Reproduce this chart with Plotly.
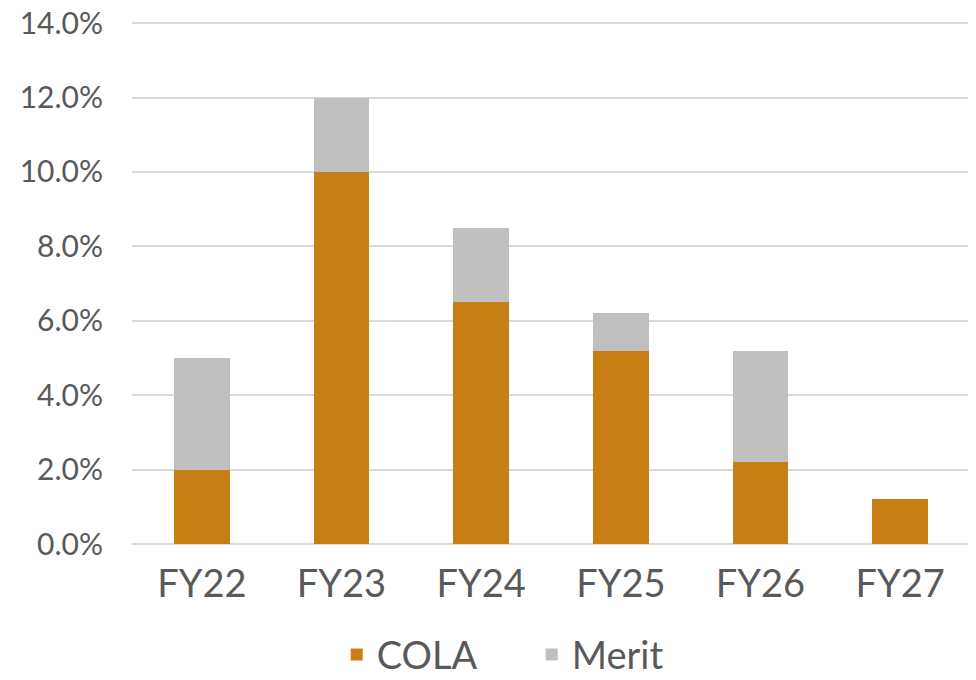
import plotly.graph_objects as go

categories = ["FY22", "FY23", "FY24", "FY25", "FY26", "FY27"]
cola = [2.0, 10.0, 6.5, 5.2, 2.2, 1.2]
merit = [3.0, 2.0, 2.0, 1.0, 3.0, 0.0]
y_ticks = [0, 2, 4, 6, 8, 10, 12, 14]
y_tick_labels = [f"{v:.1f}%" for v in y_ticks]

font_color = "#595959"
fig = go.Figure()
fig.add_trace(go.Bar(name="COLA", x=categories, y=cola, marker_color="#C77E15",
                     marker_line_width=0, width=0.4))
fig.add_trace(go.Bar(name="Merit", x=categories, y=merit, marker_color="#BFBFBF",
                     marker_line_width=0, width=0.4))

fig.update_layout(
    barmode="stack",
    width=968, height=672,
    margin=dict(l=124, r=6, t=14, b=136, autoexpand=False),
    paper_bgcolor="white", plot_bgcolor="white",
    font=dict(family="Lato, sans-serif", color=font_color),
    showlegend=True,
    legend=dict(orientation="h", x=0.477, xanchor="center", y=-0.152, yanchor="top",
                font=dict(size=38, color=font_color), itemwidth=30, entrywidth=150,
                traceorder="normal"),
    xaxis=dict(tickfont=dict(size=38, color=font_color), showgrid=False,
               showline=False, ticks="", ticklabelstandoff=14, automargin=False),
    yaxis=dict(range=[0, 14.03], tickvals=y_ticks, ticktext=y_tick_labels,
               tickfont=dict(size=30, color=font_color), showgrid=True,
               gridcolor="#D9D9D9", gridwidth=2, zeroline=True, zerolinecolor="#D9D9D9",
               zerolinewidth=2, showline=False, ticks="", ticklabelstandoff=28,
               automargin=False, ticklabeloverflow="allow"),
)
fig.write_html("out.html")
